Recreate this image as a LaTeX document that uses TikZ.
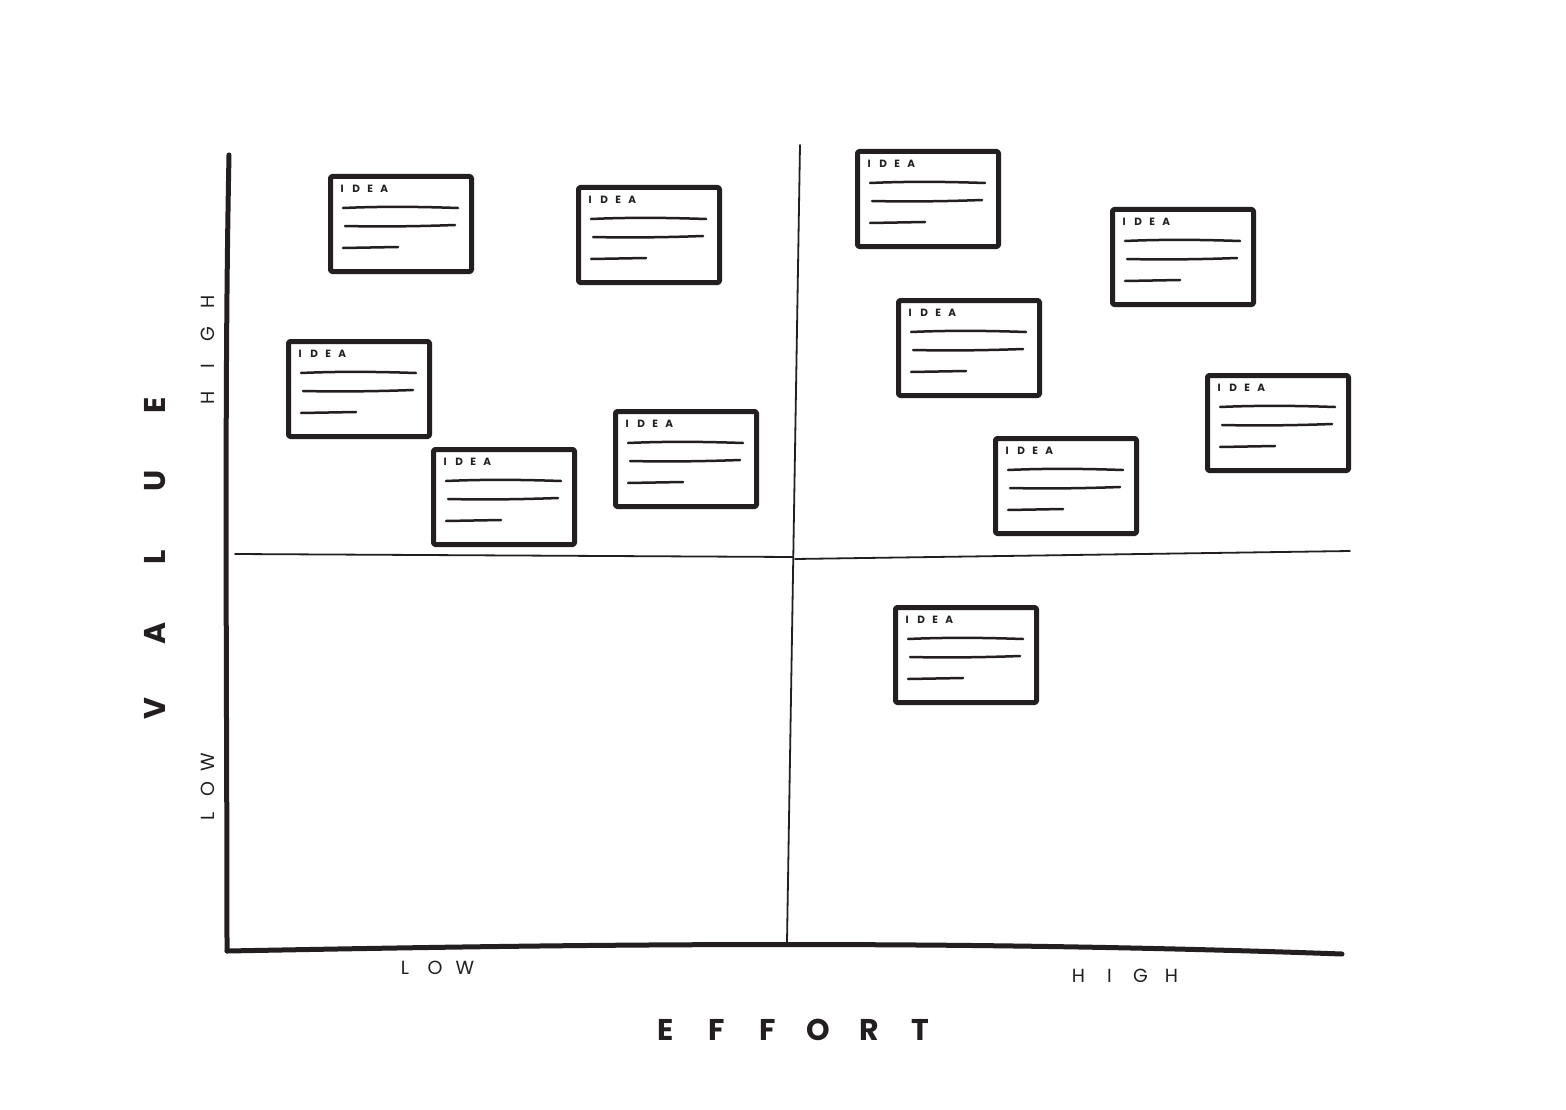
\documentclass[tikz,border=0pt]{standalone}
\usepackage{fontspec}
\setmainfont{Poppins}
\definecolor{ink}{HTML}{231F20}
\newcommand\Lt[2]{\makebox[#1pt][c]{#2}}
\tikzset{
  axis/.style={draw=ink, line width=5pt},
  divider/.style={draw=ink, line width=1.8pt},
  cardbox/.style={draw=ink, line width=5pt, fill=white, minimum width=141pt,
    minimum height=95pt, anchor=north west, inner sep=0pt, rounded corners=1.5pt},
  idea/.style={font=\bfseries\fontsize{10.5}{12}\selectfont, anchor=west, inner sep=0pt, text=ink},
  cline/.style={draw=ink, line width=2.5pt},
  biglabel/.style={font=\bfseries\fontsize{30}{36}\selectfont, text=ink, inner sep=0pt},
  smalllabel/.style={font=\fontsize{19}{22}\selectfont, text=ink, inner sep=0pt},
  ideacard/.pic={
    \node[cardbox] (-box) at (0,0) {};
    \node[idea] (-title) at (7,15) {\Lt{14}{I}\Lt{14}{D}\Lt{14}{E}\Lt{14}{A}};
    \draw[cline] (15,34) .. controls (60,32) and (100,33) .. (130,34);
    \draw[cline] (17,52) .. controls (60,53) and (100,52) .. (127,51);
    \draw[cline] (15,74) -- (70,73);
  }
}
\begin{document}
\begin{tikzpicture}[x=1pt,y=-1pt, line cap=round, line join=round]
\useasboundingbox[fill=white] (0,0) rectangle (1566,1110);

% axes
\coordinate (ytop) at (229,155);
\coordinate (orig) at (227,951);
\coordinate (xend) at (1342,954);
\draw[axis] (ytop) .. controls (224,400) and (227,700) .. (orig);
\draw[axis] (orig) .. controls (500,946) and (900,938) .. (xend);

% dividers
\coordinate (vtop) at (800,145);
\coordinate (vbot) at (787,942);
\draw[divider] (vtop) -- (vbot);
\coordinate (hl) at (235,554);
\coordinate (hm1) at (793,557);
\coordinate (hm2) at (795,559);
\coordinate (hr) at (1350,551);
\draw[divider] (hl) -- (hm1);
\draw[divider] (hm2) -- (hr);

% cards
\pic (c1) at (328,174) {ideacard};
\pic (c2) at (576,185) {ideacard};
\pic (c3) at (286,339) {ideacard};
\pic (c4) at (431,447) {ideacard};
\pic (c5) at (613,409) {ideacard};
\pic (c6) at (855,149) {ideacard};
\pic (c7) at (1110,207) {ideacard};
\pic (c8) at (896,298) {ideacard};
\pic (c9) at (1205,373) {ideacard};
\pic (c10) at (993,436) {ideacard};
\pic (c11) at (893,605) {ideacard};

% labels
\node[biglabel, rotate=90] (value) at (155,557) {\Lt{76}{V}\Lt{76}{A}\Lt{76}{L}\Lt{76}{U}\Lt{76}{E}};
\node[smalllabel, rotate=90] (vhigh) at (208,350) {\Lt{32}{H}\Lt{32}{I}\Lt{32}{G}\Lt{32}{H}};
\node[smalllabel, rotate=90] (vlow) at (208,789) {\Lt{27}{L}\Lt{27}{O}\Lt{27}{W}};
\node[smalllabel] (elow) at (435,968) {\Lt{30}{L}\Lt{30}{O}\Lt{30}{W}};
\node[smalllabel] (ehigh) at (1125,976) {\Lt{31}{H}\Lt{31}{I}\Lt{31}{G}\Lt{31}{H}};
\node[biglabel] (effort) at (793,1030) {\Lt{51}{E}\Lt{51}{F}\Lt{51}{F}\Lt{51}{O}\Lt{51}{R}\Lt{51}{T}};
\end{tikzpicture}
\end{document}
